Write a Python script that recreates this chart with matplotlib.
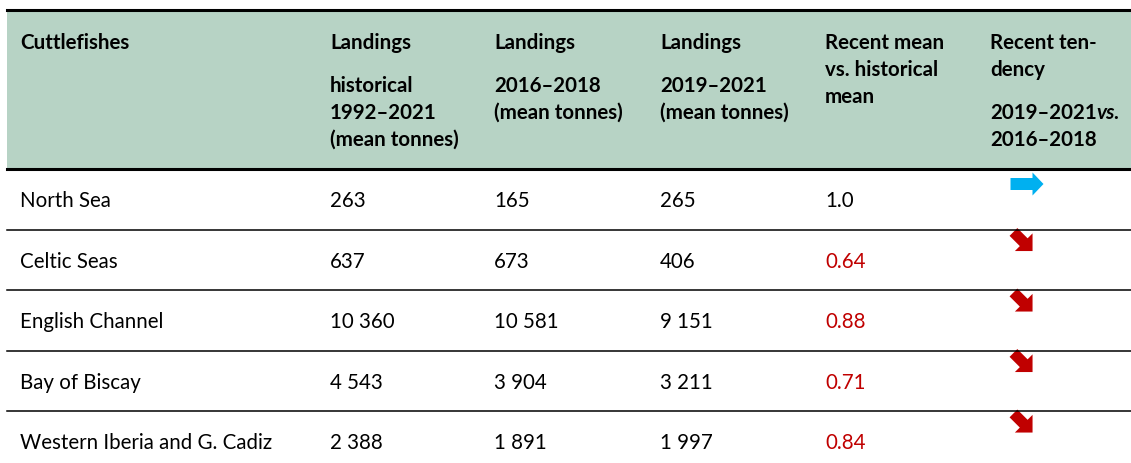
import numpy as np
import matplotlib.pyplot as plt
from matplotlib.patches import Rectangle, Polygon

# table content
regions = ["North Sea", "Celtic Seas", "English Channel", "Bay of Biscay",
           "Western Iberia and G. Cadiz"]
hist_1992_2021 = ["263", "637", "10 360", "4 543", "2 388"]
mean_2016_2018 = ["165", "673", "10 581", "3 904", "1 891"]
mean_2019_2021 = ["265", "406", "9 151", "3 211", "1 997"]
ratio = [1.0, 0.64, 0.88, 0.71, 0.84]
ratio_labels = ["1.0", "0.64", "0.88", "0.71", "0.84"]
tendency = ["stable", "down", "down", "down", "down"]

W, H = 1131, 464
HEADER_BG = "#b7d3c5"
RED = "#c00000"
BLUE = "#00b0f0"
FONT = "Lato"
FS = 14.8

col_x = [20, 330, 494, 660, 825, 990]
head_top, head_bot = 11, 170
row_h = 60.5

fig = plt.figure(figsize=(W / 100, H / 100), dpi=100)
ax = fig.add_axes([0, 0, 1, 1])
ax.set_xlim(0, W)
ax.set_ylim(H, 0)
ax.axis("off")

# header
ax.add_patch(Rectangle((7, head_top), W - 7, head_bot - head_top, color=HEADER_BG, lw=0))
ax.plot([7, W], [head_top, head_top], color="black", lw=2.2)
ax.plot([7, W], [head_bot, head_bot], color="black", lw=2.2)

def htext(x, y, s, **kw):
    return ax.text(x, y, s, fontsize=FS, fontweight="bold", family=FONT, va="center", ha="left", **kw)

htext(col_x[0], 43, "Cuttlefishes")
htext(col_x[1], 43, "Landings")
htext(col_x[1], 86, "historical")
htext(col_x[1], 113, "1992–2021")
htext(col_x[1], 140, "(mean tonnes)")
htext(col_x[2], 43, "Landings")
htext(col_x[2], 86, "2016–2018")
htext(col_x[2], 113, "(mean tonnes)")
htext(col_x[3], 43, "Landings")
htext(col_x[3], 86, "2019–2021")
htext(col_x[3], 113, "(mean tonnes)")
htext(col_x[4], 43, "Recent mean")
htext(col_x[4], 70, "vs. historical")
htext(col_x[4], 97, "mean")
htext(col_x[5], 43, "Recent ten-")
htext(col_x[5], 70, "dency")
t = htext(col_x[5], 113, "2019–2021")
ax.annotate("vs.", xy=(1, 0.5), xycoords=t, fontsize=FS, fontweight="bold",
            fontstyle="italic", family=FONT, va="center", ha="left")
htext(col_x[5], 140, "2016–2018")


def block_arrow(cx, cy, angle, length, head_w, shaft_w, head_len, color):
    # arrow pointing along +x in local coords, then rotated (y axis points down)
    L = length / 2
    pts = np.array([
        [-L, -shaft_w / 2], [L - head_len, -shaft_w / 2], [L - head_len, -head_w / 2],
        [L, 0], [L - head_len, head_w / 2], [L - head_len, shaft_w / 2], [-L, shaft_w / 2],
    ])
    a = np.deg2rad(angle)
    rot = np.array([[np.cos(a), -np.sin(a)], [np.sin(a), np.cos(a)]])
    pts = pts @ rot.T + [cx, cy]
    ax.add_patch(Polygon(pts, closed=True, color=color, lw=0))


for i, reg in enumerate(regions):
    yc = head_bot + row_h * (i + 0.5)
    ty = yc + 1
    for x, s in zip(col_x[:4], [reg, hist_1992_2021[i], mean_2016_2018[i], mean_2019_2021[i]]):
        ax.text(x, ty, s, fontsize=FS, family=FONT, va="center", ha="left")
    ax.text(col_x[4], ty, ratio_labels[i], fontsize=FS, family=FONT, va="center", ha="left",
            color="black" if ratio[i] >= 1 else RED)
    top = head_bot + row_h * i
    if tendency[i] == "stable":
        block_arrow(1027, top + 15, 0, 33, 23, 12, 11, BLUE)
    else:
        block_arrow(1023, top + 12, 45, 27, 25, 11, 12.5, RED)
    if i < len(regions) - 1:
        yl = head_bot + row_h * (i + 1)
        ax.plot([7, W], [yl, yl], color="black", lw=1.1)

fig.savefig("out.png", dpi=100)
